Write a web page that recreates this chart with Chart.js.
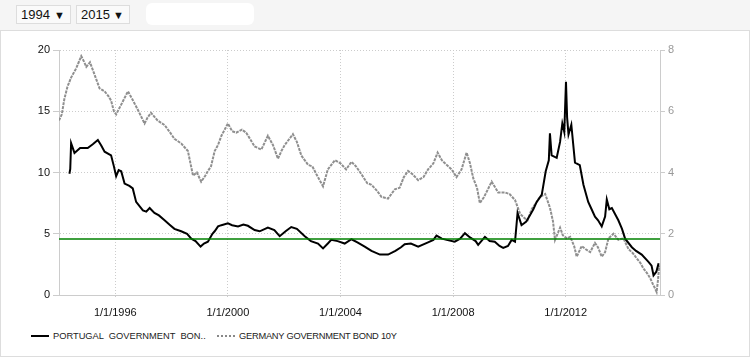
<!DOCTYPE html>
<html>
<head>
<meta charset="utf-8">
<script src="https://cdn.jsdelivr.net/npm/chart.js@4/dist/chart.umd.min.js"></script>
<style>
  body { margin: 0; background: #fff; font-family: Arial, "Liberation Sans", sans-serif; }
  #wrap { position: relative; width: 750px; height: 358px; overflow: hidden; }
  #bar { position: absolute; left: 0; top: 0; width: 750px; height: 30px; background: #f5f5f5; border-bottom: 1px solid #ddd; }
  .sel { position: absolute; top: 5px; height: 19px; border: 1px solid #ddd; background: #fafafa;
         font-size: 13px; line-height: 18px; color: #111; padding-left: 4px; box-sizing: border-box; }
  .sel span { position: absolute; right: 5px; top: 0; font-size: 11px; }
  #blank { position: absolute; left: 146px; top: 3px; width: 108px; height: 22px; background: #fff; border-radius: 6px; }
  #frame { position: absolute; left: 0; top: 31px; width: 748px; height: 325px; border-left: 1px solid #ddd; border-right: 1px solid #ddd; border-bottom: 1px solid #ddd; }
  #chartBox { position: absolute; left: 0; top: 31px; width: 750px; height: 289px; }
  #legend { position: absolute; top: 330px; left: 0; font-size: 9.3px; color: #222; white-space: pre; }
  .lg { position: absolute; top: 0; line-height: 12px; }
  .sw { position: absolute; width: 18px; }
</style>
</head>
<body>
<div id="wrap">
  <div id="bar">
    <div class="sel" style="left:16px;width:55px;">1994<span>&#9660;</span></div>
    <div class="sel" style="left:76px;width:54px;">2015<span>&#9660;</span></div>
    <div id="blank"></div>
  </div>
  <div id="frame"></div>
  <div id="chartBox"><canvas id="grafico" width="750" height="289"></canvas></div>
  <div id="legend">
    <div class="sw" style="left:31px;top:5px;height:0;border-top:2px solid #000;"></div>
    <div class="lg" style="left:53px;">PORTUGAL  GOVERNMENT  BON..</div>
    <div class="sw" style="left:217px;top:5px;height:0;border-top:2px dotted #888;"></div>
    <div class="lg" style="left:239px;letter-spacing:-0.25px;">GERMANY GOVERNMENT BOND 10Y</div>
  </div>
</div>
<script>
// Portugal 10Y (left axis)
const ptAnos = [1994.37, 1994.40, 1994.43, 1994.55, 1994.75, 1995.02, 1995.20, 1995.38, 1995.50, 1995.62,
  1995.85, 1995.95, 1996.03, 1996.12, 1996.21, 1996.33, 1996.50, 1996.62, 1996.74, 1996.98,
  1997.10, 1997.22, 1997.39, 1997.55, 1997.75, 1997.95, 1998.10, 1998.34, 1998.55, 1998.70,
  1998.85, 1999.03, 1999.15, 1999.29, 1999.45, 1999.53, 1999.65, 1999.77, 2000.00, 2000.15,
  2000.36, 2000.55, 2000.71, 2000.95, 2001.13, 2001.42, 2001.65, 2001.84, 2002.05, 2002.25,
  2002.45, 2002.73, 2002.95, 2003.20, 2003.38, 2003.55, 2003.67, 2003.90, 2004.15, 2004.39,
  2004.60, 2004.86, 2005.10, 2005.40, 2005.69, 2005.95, 2006.15, 2006.28, 2006.50, 2006.76,
  2007.11, 2007.30, 2007.41, 2007.60, 2007.77, 2008.06, 2008.25, 2008.42, 2008.60, 2008.80,
  2008.89, 2009.13, 2009.30, 2009.48, 2009.65, 2009.78, 2009.95, 2010.08, 2010.20, 2010.29,
  2010.43, 2010.60, 2010.73, 2010.85, 2010.97, 2011.15, 2011.29, 2011.40, 2011.44, 2011.50,
  2011.68, 2011.80, 2011.88, 2011.95, 2012.01, 2012.05, 2012.10, 2012.20, 2012.33, 2012.50,
  2012.63, 2012.80, 2012.92, 2013.04, 2013.15, 2013.28, 2013.40, 2013.46, 2013.55, 2013.64,
  2013.87, 2014.00, 2014.11, 2014.35, 2014.50, 2014.70, 2014.94, 2015.05, 2015.12, 2015.22,
  2015.30];
const ptTaxas = [9.9, 10.3, 12.4, 11.6, 12.0, 12.0, 12.3, 12.65, 12.2, 11.7,
  11.4, 10.5, 9.7, 10.2, 10.1, 9.1, 8.9, 8.7, 7.6, 6.9,
  6.8, 7.1, 6.7, 6.5, 6.1, 5.7, 5.4, 5.2, 5.0, 4.6,
  4.4, 3.95, 4.2, 4.35, 5.0, 5.2, 5.6, 5.7, 5.85, 5.7,
  5.6, 5.75, 5.65, 5.3, 5.2, 5.5, 5.3, 4.8, 5.2, 5.55,
  5.4, 4.8, 4.4, 4.2, 3.8, 4.2, 4.5, 4.4, 4.2, 4.55,
  4.3, 3.95, 3.6, 3.3, 3.3, 3.6, 3.9, 4.15, 4.2, 3.95,
  4.3, 4.5, 4.85, 4.6, 4.5, 4.35, 4.6, 5.05, 4.7, 4.4,
  4.1, 4.75, 4.4, 4.35, 4.0, 3.85, 4.0, 4.5, 4.35, 6.7,
  5.7, 6.0, 6.5, 7.0, 7.6, 8.2, 10.1, 11.0, 13.2, 11.4,
  11.2, 12.5, 14.0, 13.3, 17.4, 14.5, 13.1, 13.9, 10.8, 10.6,
  9.0, 7.6, 7.0, 6.4, 6.1, 5.6, 6.4, 7.8, 7.0, 7.1,
  6.1, 5.4, 4.6, 3.9, 3.6, 3.3, 2.7, 2.4, 1.6, 1.9,
  2.6];

// Germany 10Y (right axis)
const deAnos = [1994.00, 1994.10, 1994.19, 1994.30, 1994.43, 1994.61, 1994.70, 1994.79, 1994.90, 1994.97,
  1995.10, 1995.26, 1995.44, 1995.62, 1995.75, 1995.85, 1995.95, 1996.03, 1996.20, 1996.45,
  1996.60, 1996.80, 1997.04, 1997.15, 1997.27, 1997.50, 1997.75, 1997.95, 1998.10, 1998.34,
  1998.58, 1998.76, 1998.90, 1999.05, 1999.20, 1999.29, 1999.40, 1999.53, 1999.65, 1999.77,
  2000.00, 2000.15, 2000.30, 2000.50, 2000.65, 2000.95, 2001.19, 2001.42, 2001.60, 2001.78,
  2001.90, 2002.02, 2002.31, 2002.45, 2002.61, 2002.85, 2003.00, 2003.14, 2003.38, 2003.55,
  2003.80, 2004.00, 2004.20, 2004.39, 2004.55, 2004.74, 2004.95, 2005.10, 2005.30, 2005.46,
  2005.69, 2005.93, 2006.10, 2006.25, 2006.40, 2006.55, 2006.76, 2006.95, 2007.11, 2007.30,
  2007.45, 2007.60, 2007.77, 2007.95, 2008.12, 2008.30, 2008.48, 2008.60, 2008.72, 2008.85,
  2008.95, 2009.10, 2009.37, 2009.60, 2009.84, 2010.00, 2010.20, 2010.38, 2010.55, 2010.65,
  2010.79, 2011.09, 2011.27, 2011.44, 2011.55, 2011.62, 2011.80, 2011.90, 2012.04, 2012.16,
  2012.30, 2012.39, 2012.57, 2012.70, 2012.87, 2013.04, 2013.15, 2013.28, 2013.40, 2013.52,
  2013.70, 2013.87, 2014.05, 2014.23, 2014.40, 2014.52, 2014.65, 2014.76, 2014.90, 2015.00,
  2015.10, 2015.17, 2015.23, 2015.28, 2015.32, 2015.34];
const deTaxas = [5.7, 5.9, 6.4, 6.8, 7.1, 7.4, 7.6, 7.8, 7.6, 7.45,
  7.6, 7.2, 6.75, 6.65, 6.5, 6.35, 6.0, 5.9, 6.2, 6.65,
  6.4, 6.05, 5.6, 5.8, 5.95, 5.7, 5.55, 5.3, 5.1, 4.95,
  4.7, 3.9, 4.0, 3.7, 3.9, 4.05, 4.2, 4.7, 4.9, 5.2,
  5.6, 5.35, 5.3, 5.4, 5.3, 4.85, 4.75, 5.2, 4.9, 4.45,
  4.7, 4.9, 5.25, 5.0, 4.55, 4.25, 4.2, 3.95, 3.55, 4.1,
  4.4, 4.3, 4.1, 4.35, 4.2, 3.95, 3.65, 3.6, 3.4, 3.2,
  3.15, 3.45, 3.5, 3.85, 4.05, 3.95, 3.75, 3.85, 4.1, 4.3,
  4.65, 4.4, 4.25, 4.1, 3.85, 4.1, 4.65, 4.3, 3.8, 3.5,
  3.0, 3.2, 3.7, 3.35, 3.35, 3.3, 3.1, 2.65, 2.5, 2.45,
  2.8, 3.2, 3.3, 2.85, 2.4, 1.8, 2.2, 1.95, 1.85, 1.9,
  1.6, 1.25, 1.6, 1.5, 1.4, 1.7, 1.55, 1.25, 1.4, 1.85,
  2.0, 1.8, 1.85, 1.5, 1.35, 1.2, 1.05, 0.87, 0.7, 0.55,
  0.35, 0.22, 0.1, 0.5, 0.93, 0.9];

// linha de referencia verde (eixo esquerdo)
const refNivel = 4.57;
const anoMin = 1994.0;
const anoMax = 2015.35;
const xTicks = [1996, 2000, 2004, 2008, 2012];

const fonte = { family: "Arial, 'Liberation Sans', sans-serif", size: 11 };

const ctx = document.getElementById("grafico").getContext("2d");
new Chart(ctx, {
  type: "line",
  data: {
    datasets: [
      {
        label: "PORTUGAL GOVERNMENT BOND",
        data: ptAnos.map((a, i) => ({ x: a, y: ptTaxas[i] })),
        borderColor: "#000",
        borderWidth: 2,
        pointRadius: 0,
        yAxisID: "y",
        order: 1,
      },
      {
        label: "GERMANY GOVERNMENT BOND 10Y",
        data: deAnos.map((a, i) => ({ x: a, y: deTaxas[i] })),
        borderColor: "#8f8f8f",
        borderWidth: 2,
        borderDash: [3, 1],
        pointRadius: 0,
        yAxisID: "y1",
        order: 2,
      },
      {
        label: "ref",
        data: [{ x: anoMin, y: refNivel }, { x: anoMax, y: refNivel }],
        borderColor: "#008000",
        borderWidth: 1.5,
        pointRadius: 0,
        yAxisID: "y",
        order: 0,
      },
    ],
  },
  options: {
    responsive: false,
    animation: false,
    layout: { padding: { top: 19, left: 0, right: 0, bottom: 0 } },
    plugins: { legend: { display: false }, tooltip: { enabled: false } },
    scales: {
      x: {
        type: "linear",
        min: anoMin,
        max: anoMax,
        afterBuildTicks: (s) => { s.ticks = xTicks.map((v) => ({ value: v })); },
        afterFit: (s) => { s.height = 25; },
        ticks: { color: "#111", font: fonte, padding: 8, maxRotation: 0, autoSkip: false, callback: (v) => "1/1/" + v },
        grid: { color: "#ccc", tickLength: 3, tickColor: "#ccc", tickBorderDash: [1, 2] },
        border: { color: "#ccc", width: 1, dash: [1, 2] },
      },
      y: {
        position: "left",
        min: 0,
        max: 20,
        afterFit: (s) => { s.width = 59; },
        ticks: { stepSize: 5, color: "#111", font: fonte, padding: 3 },
        grid: { color: "#ccc", tickLength: 6, tickColor: "#ccc", tickBorderDash: [] },
        border: { color: "#ccc", width: 1, dash: [1, 2] },
      },
      y1: {
        position: "right",
        min: 0,
        max: 8,
        afterFit: (s) => { s.width = 90; },
        ticks: { stepSize: 2, color: "#999", font: fonte, padding: 3 },
        grid: { drawOnChartArea: false, tickLength: 5, tickColor: "#ccc" },
        border: { color: "#ccc", width: 1 },
      },
    },
  },
});
</script>
</body>
</html>
